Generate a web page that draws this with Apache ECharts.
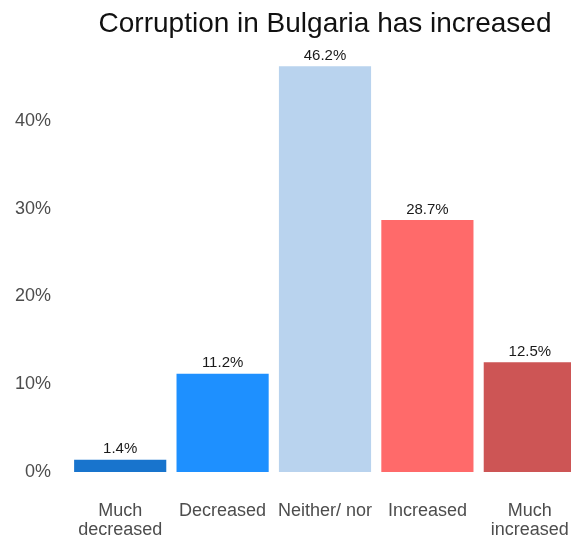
<!DOCTYPE html>
<html>
<head>
<meta charset="utf-8">
<script src="https://cdn.jsdelivr.net/npm/echarts@6/dist/echarts.min.js"></script>
<style>
  html, body { margin: 0; padding: 0; background: #fff; }
  #chart { width: 571px; height: 539px; }
</style>
</head>
<body>
<div id="chart"></div>
<script>
// data
var categories = ['Much\ndecreased', 'Decreased', 'Neither/ nor', 'Increased', 'Much\nincreased'];
var shares = [1.4, 11.2, 46.2, 28.7, 12.5];
var barColors = ['#1874CD', '#1E90FF', '#B9D3EE', '#FF6A6A', '#CD5555'];
var yTicks = [0, 10, 20, 30, 40];

var el = document.getElementById('chart');
var myChart = echarts.init(el, null, { renderer: 'canvas' });

var option = {
  backgroundColor: '#fff',
  animation: false,
  textStyle: { fontFamily: 'Liberation Sans, Arial, sans-serif' },
  title: {
    text: 'Corruption in Bulgaria has increased',
    left: 320,
    top: 5,
    textAlign: 'center',
    textStyle: { fontSize: 28, fontWeight: 'normal', color: '#111', fontFamily: 'Liberation Sans, Arial, sans-serif' }
  },
  // plot runs a bit past the right edge, like the reference (last bar is cut)
  grid: { left: 69, right: -10, top: 33, bottom: 67, containLabel: false, outerBoundsMode: 'none' },
  xAxis: {
    type: 'category',
    data: categories,
    axisLine: { show: false },
    axisTick: { show: false },
    axisLabel: {
      interval: 0,
      margin: 30,
      fontSize: 18,
      lineHeight: 19,
      color: '#4D4D4D',
      fontFamily: 'Liberation Sans, Arial, sans-serif'
    }
  },
  yAxis: {
    type: 'value',
    min: 0,
    max: 50,
    interval: 10,
    axisLine: { show: false },
    axisTick: { show: false },
    splitLine: { show: false },
    axisLabel: {
      margin: 18,
      fontSize: 18,
      padding: [4, 0, 0, 0],
      color: '#4D4D4D',
      fontFamily: 'Liberation Sans, Arial, sans-serif',
      formatter: function (v) { return yTicks.indexOf(v) >= 0 ? v + '%' : ''; }
    }
  },
  series: [{
    type: 'bar',
    barCategoryGap: '10%',
    data: shares.map(function (v, i) {
      return { value: v, itemStyle: { color: barColors[i] } };
    }),
    label: {
      show: true,
      position: 'top',
      distance: 3,
      fontSize: 15,
      color: '#1a1a1a',
      fontFamily: 'Liberation Sans, Arial, sans-serif',
      formatter: function (p) { return p.value.toFixed(1) + '%'; }
    }
  }]
};

myChart.setOption(option, true);
</script>
</body>
</html>
